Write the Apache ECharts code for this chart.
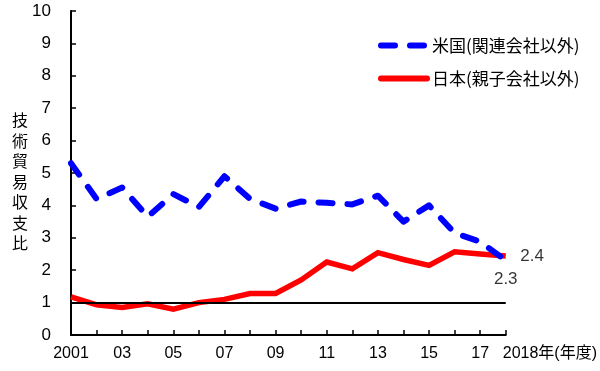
<!DOCTYPE html>
<html><head><meta charset="utf-8">
<script src="https://cdn.jsdelivr.net/npm/echarts@6/dist/echarts.min.js"></script>
<style>html,body{margin:0;padding:0;background:#fff}#c{width:600px;height:371px}</style>
</head><body><div id="c"></div>
<script>
const years = ['2001','2002','2003','2004','2005','2006','2007','2008','2009','2010','2011','2012','2013','2014','2015','2016','2017','2018'];
const usValues = [5.3, 4.2, 4.55, 3.65, 4.35, 3.95, 4.9, 4.2, 3.9, 4.12, 4.08, 4.03, 4.3, 3.5, 4.0, 3.15, 2.88, 2.3];
const jpValues = [1.18, 0.93, 0.85, 0.96, 0.8, 1.0, 1.1, 1.28, 1.28, 1.7, 2.25, 2.04, 2.54, 2.33, 2.15, 2.57, 2.5, 2.44];
const endLabels = ['2.3', '2.4'];
const usName = '米国(関連会社以外)';
const jpName = '日本(親子会社以外)';
const yTitle = '技術貿易収支比';
const FONT = '"Liberation Sans","Noto Sans CJK JP",sans-serif';
const CJK = '"Noto Sans CJK JP",sans-serif';

function xLabel(v, i) {
  if (i === years.length - 1) return v + '年(年度)';
  if (i === 0) return v;
  return v.slice(2);
}
const last = years.length - 1;
const chart = echarts.init(document.getElementById('c'));
chart.setOption({
  animation: false,
  backgroundColor: '#fff',
  grid: { left: 71, right: 93, top: 11, bottom: 36 },
  legend: {
    orient: 'vertical', left: 373, top: 32, itemGap: 16,
    itemWidth: 46, itemHeight: 16,
    itemStyle: { opacity: 0 },
    lineStyle: { width: 6, cap: 'round' },
    textStyle: { fontFamily: CJK, fontSize: 17, color: '#000' },
    data: [usName, jpName]
  },
  xAxis: {
    type: 'category', boundaryGap: false,
    data: years.map((y, i) => i === last ? { value: y, textStyle: { align: 'left', padding: [0, 0, 0, -3] } } : y),
    axisLine: { lineStyle: { color: '#000', width: 2 } },
    axisTick: { inside: true, length: 5, interval: 0, lineStyle: { color: '#000', width: 1.5 } },
    axisLabel: {
      interval: (i) => i % 2 === 0 || i === last,
      formatter: xLabel, color: '#000', fontSize: 16, fontFamily: FONT, margin: 11
    }
  },
  yAxis: {
    type: 'value', min: 0, max: 10, interval: 1,
    axisLine: { show: true, lineStyle: { color: '#000', width: 2 } },
    axisTick: { show: true, inside: true, length: 5, lineStyle: { color: '#000', width: 1.5 } },
    splitLine: { show: false },
    axisLabel: { color: '#000', fontSize: 17, fontFamily: FONT, margin: 20 }
  },
  graphic: [{
    type: 'text', left: 12, top: 110,
    style: { text: yTitle.split('').join('\n'), fontFamily: CJK, fontSize: 16, lineHeight: 20.5, fill: '#000' }
  }],
  series: [
    {
      name: usName, type: 'line', data: usValues,
      symbol: 'none', z: 3,
      color: '#0000ff',
      lineStyle: { color: '#0000ff', width: 6, type: [14, 15], cap: 'round', join: 'round' }
    },
    {
      name: jpName, type: 'line', data: jpValues,
      symbol: 'none', z: 2,
      color: '#ff0000',
      lineStyle: { color: '#ff0000', width: 5.5, join: 'miter' },
      markLine: {
        silent: true, symbol: 'none', label: { show: false },
        lineStyle: { color: '#000', width: 2, type: 'solid' },
        data: [{ yAxis: 1 }]
      }
    },
    {
      name: 'labels', type: 'scatter', symbolSize: 1, silent: true,
      itemStyle: { color: 'rgba(0,0,0,0)' },
      label: { show: true, color: '#000', fontSize: 17, fontFamily: FONT, formatter: (p) => p.value[2] },
      data: [
        { value: [last, usValues[last], endLabels[0]], label: { position: 'bottom', distance: 10 } },
        { value: [last, jpValues[last], endLabels[1]], label: { position: 'right', distance: 14 } }
      ]
    }
  ]
});
</script></body></html>
